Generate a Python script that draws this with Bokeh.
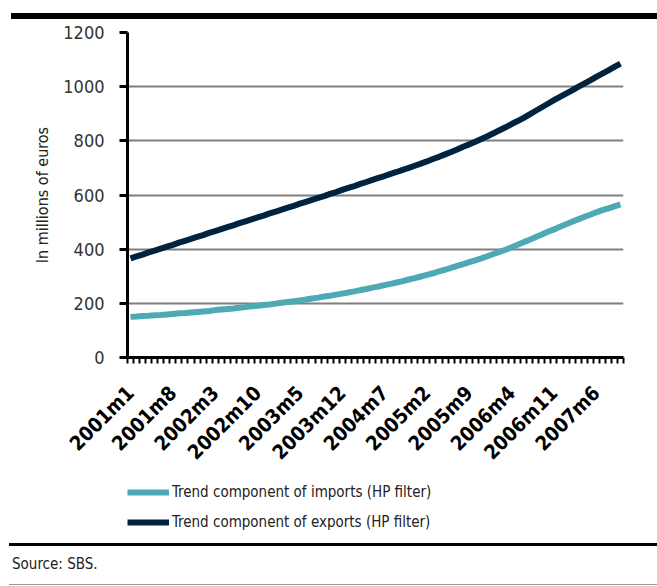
from math import pi
from bokeh.plotting import figure
from bokeh.models import (FixedTicker, Legend, LegendItem, Range1d, Div)
from bokeh.layouts import column
from bokeh.embed import file_html
from bokeh.resources import INLINE

# ---- data (monthly, 2001m1 .. 2007m10) ----
months = [f"{y}m{m}" for y in range(2001, 2008) for m in range(1, 13)][:82]

imports_trend = [150, 151, 153, 154, 156, 157, 159, 161, 163, 164,
                 166, 168, 170, 172, 175, 177, 179, 181, 184, 186,
                 189, 191, 194, 196, 199, 202, 205, 208, 211, 214,
                 218, 221, 225, 228, 232, 236, 240, 244, 249, 253,
                 258, 262, 267, 272, 277, 282, 288, 293, 299, 305,
                 311, 318, 324, 331, 338, 345, 352, 359, 366, 374,
                 382, 390, 398, 407, 416, 426, 435, 445, 454, 464,
                 473, 483, 492, 501, 510, 519, 527, 536, 544, 551,
                 558, 565]

exports_trend = [366, 373, 380, 388, 395, 402, 409, 416, 424, 431,
                 438, 445, 452, 460, 467, 474, 481, 488, 496, 503,
                 510, 517, 524, 532, 539, 546, 553, 560, 568, 575,
                 582, 589, 596, 604, 611, 619, 626, 633, 641, 648,
                 656, 663, 670, 678, 685, 693, 700, 708, 716, 724,
                 733, 741, 750, 759, 768, 778, 787, 797, 807, 817,
                 828, 839, 850, 862, 873, 885, 898, 911, 924, 937,
                 950, 962, 974, 986, 999, 1011, 1023, 1036, 1048, 1060,
                 1073, 1085]

label_months = ["2001m1", "2001m8", "2002m3", "2002m10", "2003m5", "2003m12",
                "2004m7", "2005m2", "2005m9", "2006m4", "2006m11", "2007m6"]
y_ticks = [0, 200, 400, 600, 800, 1000, 1200]

series_names = ["Trend component of imports (HP filter)",
                "Trend component of exports (HP filter)"]
series_colors = ["#4DA9B4", "#00233F"]
source_text = "Source: SBS."
y_title = "In millions of euros"

FONT = "DejaVu Sans Condensed"

# ---- main chart ----
idx = list(range(len(months)))
series = [imports_trend, exports_trend]
p = figure(width=657, height=456, output_backend="svg", toolbar_location=None,
           x_range=Range1d(-0.5, len(months) - 0.5), y_range=Range1d(0, 1200),
           min_border_left=127, min_border_right=34, min_border_top=13,
           min_border_bottom=118, outline_line_color=None,
           background_fill_color="white", border_fill_color="white")

for vals, c in zip(series, series_colors):
    p.line(idx, vals, line_color=c, line_width=6)

# x axis
major = [months.index(m) for m in label_months]
p.xaxis.ticker = FixedTicker(ticks=major, minor_ticks=[i - 0.5 for i in range(len(months) + 1)])
p.xaxis.major_label_overrides = {i: months[i] for i in major}
p.xaxis.major_label_orientation = pi / 4
p.xaxis.major_label_text_font = FONT
p.xaxis.major_label_text_font_style = "bold"
p.xaxis.major_label_text_font_size = "20px"
p.xaxis.major_label_text_color = "black"
p.xaxis.major_label_standoff = 26
p.xaxis.axis_line_width = 3
p.xaxis.axis_line_color = "black"
p.xaxis.major_tick_out = 0
p.xaxis.major_tick_in = 0
p.xaxis.minor_tick_out = 6
p.xaxis.minor_tick_in = 0
p.xaxis.minor_tick_line_width = 2
p.xaxis.minor_tick_line_color = "black"
p.xgrid.grid_line_color = None

# y axis
p.yaxis.ticker = FixedTicker(ticks=y_ticks)
p.yaxis.axis_line_width = 3
p.yaxis.axis_line_color = "black"
p.yaxis.major_tick_out = 8
p.yaxis.major_tick_in = 0
p.yaxis.major_tick_line_width = 3
p.yaxis.major_tick_line_color = "black"
p.yaxis.minor_tick_line_color = None
p.yaxis.major_label_text_font = FONT
p.yaxis.major_label_text_font_size = "18px"
p.yaxis.major_label_text_color = "#333333"
p.yaxis.major_label_standoff = 15
p.yaxis.axis_label = y_title
p.yaxis.axis_label_text_font = FONT
p.yaxis.axis_label_text_font_size = "16px"
p.yaxis.axis_label_text_font_style = "normal"
p.yaxis.axis_label_text_color = "#222222"
p.yaxis.axis_label_standoff = 8
p.ygrid.grid_line_color = "#7f7f7f"
p.ygrid.grid_line_width = 2

# ---- legend strip: same series drawn outside its (empty) view, used for swatches ----
lg = figure(width=657, height=68, output_backend="svg", toolbar_location=None,
            x_range=Range1d(-0.5, len(months) - 0.5), y_range=Range1d(-2, -1),
            x_axis_location=None, y_axis_location=None,
            min_border_left=0, min_border_right=0, min_border_top=0, min_border_bottom=0,
            outline_line_color=None, background_fill_color="white",
            border_fill_color="white")
lg.grid.visible = False
swatches = [lg.line(idx, vals, line_color=c, line_width=6)
            for vals, c in zip(series, series_colors)]
legend = Legend(items=[LegendItem(label=n, renderers=[r]) for n, r in zip(series_names, swatches)],
                location=(0, 11), orientation="vertical",
                border_line_color=None, background_fill_alpha=0,
                padding=0, margin=0, spacing=10,
                glyph_width=42, glyph_height=20, label_height=20,
                label_standoff=3,
                label_text_font=FONT, label_text_font_size="15px",
                label_text_color="#222222")
lg.add_layout(legend, "center")

top_rule = Div(width=657, height=19, margin=(0, 0, 0, 0),
               text='<div style="padding:13px 0 0 11px;">'
                    '<div style="width:646px;height:6px;background:#000;"></div></div>')
bottom = Div(width=657, height=43, margin=(0, 0, 0, 0),
             text='<div style="padding-left:9px;">'
                  '<div style="width:648px;height:3px;background:#000;"></div>'
                  '<div style="font-family:\'DejaVu Sans Condensed\';font-size:15px;color:#222;'
                  'padding:9px 0 0 3px;line-height:18px;">' + source_text + '</div>'
                  '<div style="margin-top:11px;width:648px;height:1px;background:#999;"></div>'
                  '</div>')

layout = column(top_rule, p, lg, bottom, spacing=0)
open("out.html", "w").write(file_html(layout, INLINE))
